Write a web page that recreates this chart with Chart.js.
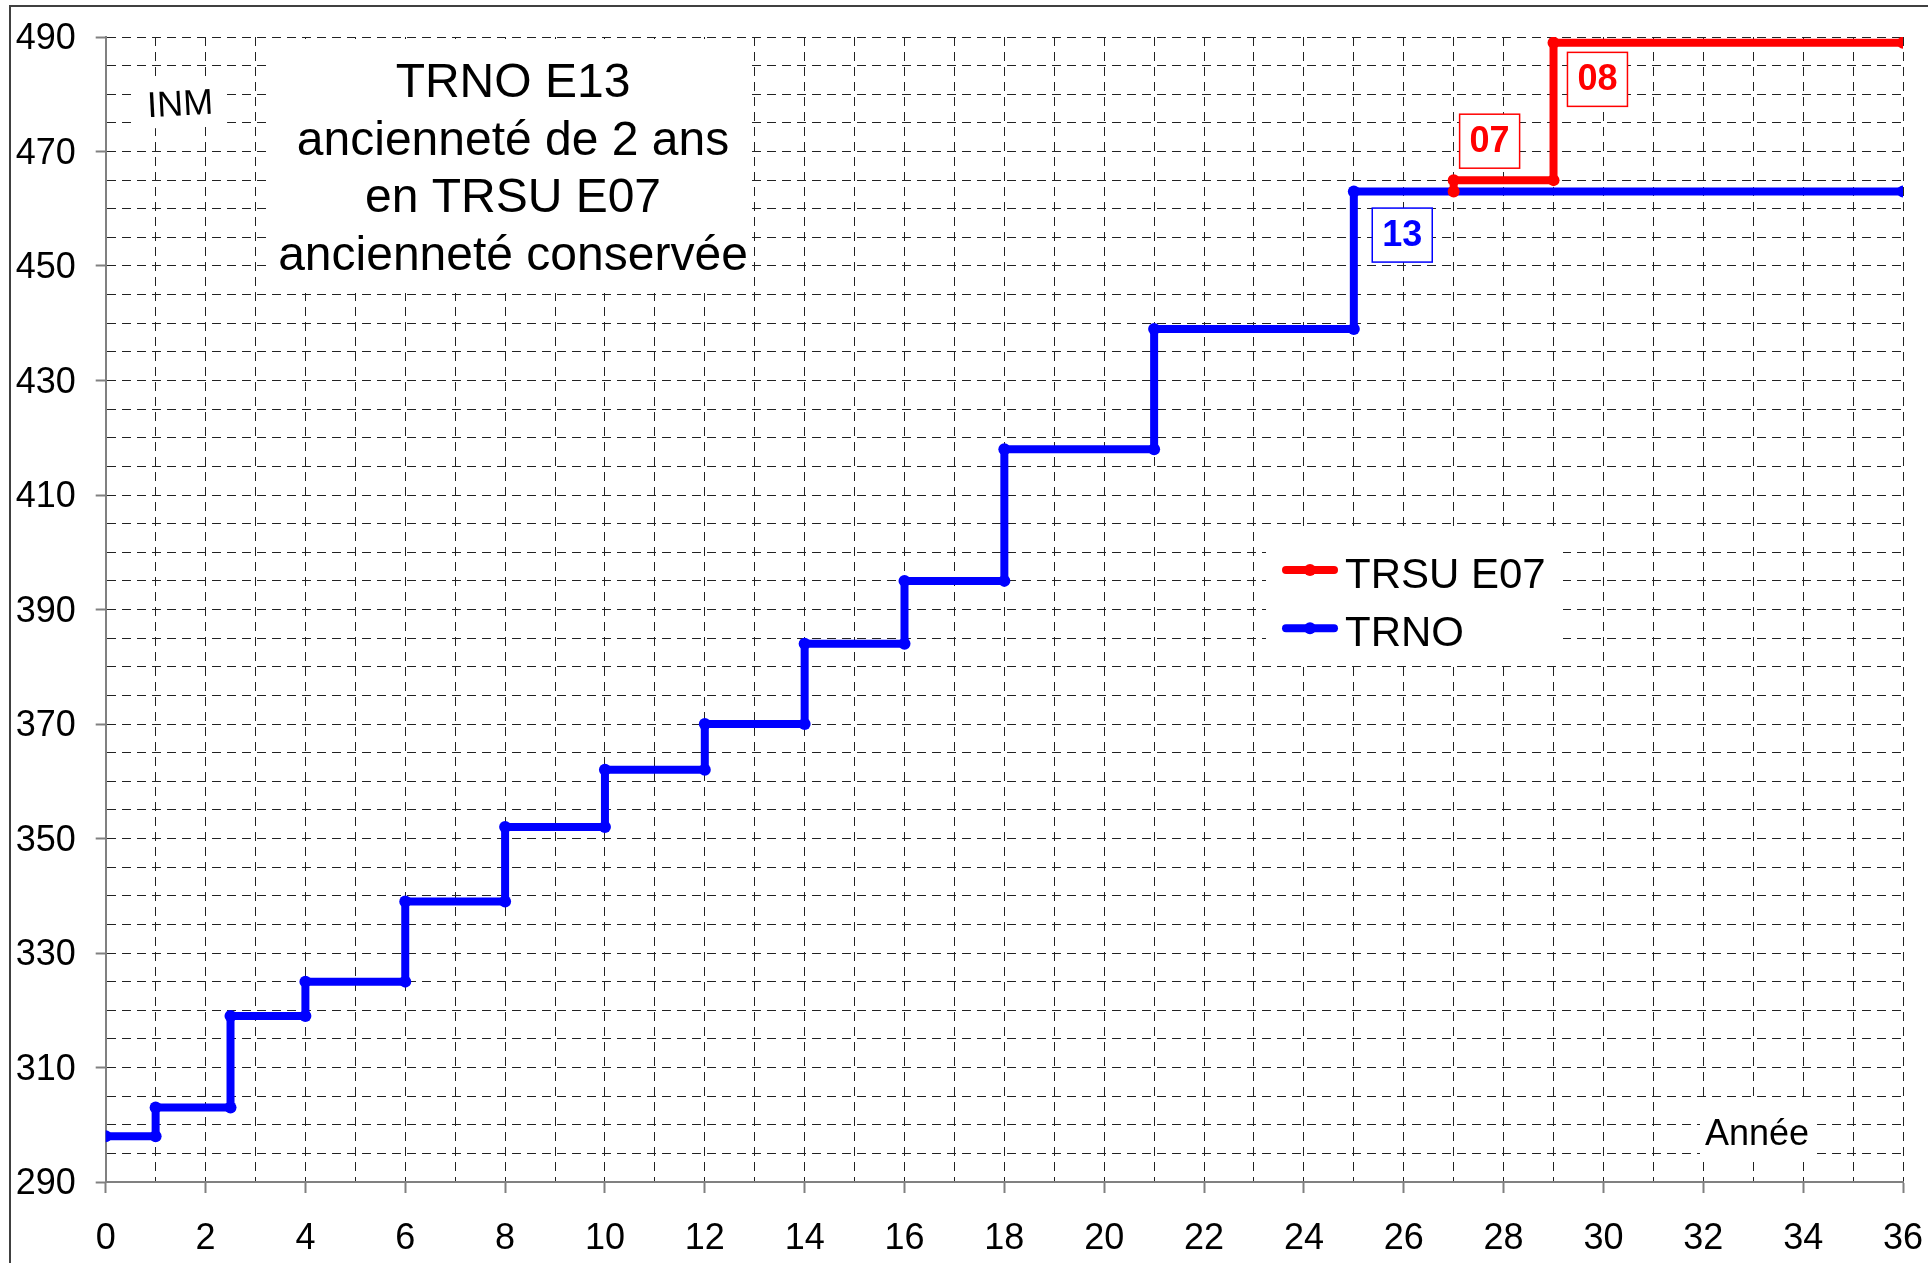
<!DOCTYPE html>
<html><head><meta charset="utf-8">
<script src="https://cdn.jsdelivr.net/npm/chart.js@4/dist/chart.umd.min.js"></script>
<style>
html,body{margin:0;padding:0;background:#fff;overflow:hidden}
#wrap{position:absolute;left:0;top:0;width:1928px;height:1263px}
#c{display:block;width:1928px;height:1263px}
</style>
</head><body>
<div id="wrap"><canvas id="c" width="1928" height="1263"></canvas></div>
<script>
// ---- data ----
const seriesNames = ['TRSU E07', 'TRNO'];
const trsuYears = [27, 27, 29, 29, 36];
const trsuINM   = [463, 465, 465, 489, 489];
const trnoYears = [0, 1, 1, 2.5, 2.5, 4, 4, 6, 6, 8, 8, 10, 10, 12, 12, 14, 14, 16, 16, 18, 18, 21, 21, 25, 25, 36];
const trnoINM   = [298, 298, 303, 303, 319, 319, 325, 325, 339, 339, 352, 352, 362, 362, 370, 370, 384, 384, 395, 395, 418, 418, 439, 439, 463, 463];
const xTickLabels = [0, 2, 4, 6, 8, 10, 12, 14, 16, 18, 20, 22, 24, 26, 28, 30, 32, 34, 36];
const yTickLabels = [290, 310, 330, 350, 370, 390, 410, 430, 450, 470, 490];
const titleLines = ['TRNO E13', 'ancienneté de 2 ans', 'en TRSU E07', 'ancienneté conservée'];
const yAxisTitle = 'INM';
const xAxisTitle = 'Année';
const stepLabels = ['13', '07', '08'];

const RED = '#FF0000', BLUE = '#0000FF';
const FONT = '"Liberation Sans", Arial, Helvetica, sans-serif';

function pts(xs, ys) { return xs.map((x, i) => ({x: x, y: ys[i]})); }

// annotation anchors (data coordinates) for the step labels
const stepLabelAnchors = [
  {x: 25.97, y: 455.4, color: BLUE},
  {x: 27.72, y: 471.8, color: RED},
  {x: 29.88, y: 482.6, color: RED}
];

const deco = {
  id: 'deco',
  beforeDraw(chart) {
    const ctx = chart.ctx;
    ctx.save();
    ctx.fillStyle = '#fff';
    ctx.fillRect(0, 0, chart.width, chart.height);
    ctx.strokeStyle = '#404040';
    ctx.lineWidth = 2;
    ctx.beginPath();
    ctx.moveTo(10, chart.height);
    ctx.lineTo(10, 6);
    ctx.lineTo(chart.width, 6);
    ctx.stroke();
    ctx.restore();
  },
  beforeDatasetsDraw(chart) {
    const ctx = chart.ctx;
    ctx.save();
    // title box
    ctx.fillStyle = '#fff';
    ctx.fillRect(266, 39, 482, 254);
    ctx.fillStyle = '#000';
    ctx.font = '48px ' + FONT;
    ctx.textAlign = 'center';
    ctx.textBaseline = 'alphabetic';
    const base = [96.7, 154.5, 212.3, 270];
    titleLines.forEach((t, i) => ctx.fillText(t, 513, base[i]));
    // INM
    ctx.save();
    ctx.translate(180, 103);
    ctx.rotate(-3 * Math.PI / 180);
    ctx.fillStyle = '#fff';
    ctx.fillRect(-46, -24, 92, 48);
    ctx.fillStyle = '#000';
    ctx.font = '36px ' + FONT;
    ctx.textAlign = 'center';
    ctx.fillText(yAxisTitle, 0, 12.5);
    ctx.restore();
    // Année
    ctx.fillStyle = '#fff';
    ctx.fillRect(1700, 1100, 115, 62);
    ctx.fillStyle = '#000';
    ctx.font = '36px ' + FONT;
    ctx.textAlign = 'center';
    ctx.fillText(xAxisTitle, 1757, 1145);
    // legend
    ctx.fillStyle = '#fff';
    ctx.fillRect(1266, 530, 297, 132);
    const ly = [570, 628.3];
    chart.data.datasets.forEach((ds, i) => {
      ctx.strokeStyle = ds.borderColor;
      ctx.lineWidth = 8;
      ctx.lineCap = 'round';
      ctx.beginPath();
      ctx.moveTo(1286, ly[i]);
      ctx.lineTo(1334, ly[i]);
      ctx.stroke();
      ctx.fillStyle = ds.borderColor;
      ctx.beginPath();
      ctx.arc(1310, ly[i], 6, 0, Math.PI * 2);
      ctx.fill();
      ctx.fillStyle = '#000';
      ctx.font = '42px ' + FONT;
      ctx.textAlign = 'left';
      ctx.fillText(ds.label, 1345, ly[i] + 17.5);
    });
    ctx.restore();
  },
  afterDatasetsDraw(chart) {
    const ctx = chart.ctx;
    const xs = chart.scales.x, ys = chart.scales.y;
    ctx.save();
    stepLabels.forEach((t, i) => {
      const a = stepLabelAnchors[i];
      const cx = xs.getPixelForValue(a.x), cy = ys.getPixelForValue(a.y);
      ctx.fillStyle = '#fff';
      ctx.fillRect(cx - 30, cy - 27, 60, 54);
      ctx.strokeStyle = a.color;
      ctx.lineWidth = 1.5;
      ctx.strokeRect(cx - 30, cy - 27, 60, 54);
      ctx.fillStyle = a.color;
      ctx.font = 'bold 36px ' + FONT;
      ctx.textAlign = 'center';
      ctx.textBaseline = 'alphabetic';
      ctx.fillText(t, cx, cy + 11);
    });
    ctx.restore();
  }
};

const GRID = '#222';
const AXIS = '#808080';

function zeroPad(s) { s.paddingLeft = 0; s.paddingRight = 0; s.paddingTop = 0; s.paddingBottom = 0; }

new Chart(document.getElementById('c'), {
  type: 'line',
  data: {
    datasets: [
      {label: seriesNames[0], data: pts(trsuYears, trsuINM), borderColor: RED, backgroundColor: RED,
       pointBackgroundColor: RED, pointBorderColor: RED, borderWidth: 8, pointRadius: 6, pointBorderWidth: 0,
       tension: 0, fill: false},
      {label: seriesNames[1], data: pts(trnoYears, trnoINM), borderColor: BLUE, backgroundColor: BLUE,
       pointBackgroundColor: BLUE, pointBorderColor: BLUE, borderWidth: 8, pointRadius: 6, pointBorderWidth: 0,
       tension: 0, fill: false}
    ]
  },
  options: {
    responsive: false,
    maintainAspectRatio: false,
    animation: false,
    devicePixelRatio: 1,
    layout: {padding: {left: 0, top: 37, right: 25, bottom: 0}},
    plugins: {legend: {display: false}, tooltip: {enabled: false}, title: {display: false}},
    scales: {
      x: {
        type: 'linear', min: 0, max: 36,
        afterFit(s) { s.height = 81; zeroPad(s); },
        ticks: {
          stepSize: 1, autoSkip: false, maxRotation: 0, minRotation: 0,
          color: '#000', font: {family: FONT, size: 36}, padding: 24,
          callback: v => xTickLabels.includes(v) ? String(v) : ''
        },
        grid: {
          color: GRID, lineWidth: 1, drawTicks: true, tickLength: 11, tickWidth: 2,
          tickColor: c => (c.tick && xTickLabels.includes(c.tick.value)) ? AXIS : 'rgba(0,0,0,0)'
        },
        border: {display: true, color: AXIS, width: 2, dash: [9, 6]}
      },
      y: {
        type: 'linear', min: 290, max: 490,
        afterFit(s) { s.width = 105.7; zeroPad(s); },
        ticks: {
          stepSize: 5, autoSkip: false, labelOffset: 2.5,
          color: '#000', font: {family: FONT, size: 36}, padding: 20,
          callback: v => yTickLabels.includes(v) ? String(v) : ''
        },
        grid: {
          color: GRID, lineWidth: 1, drawTicks: true, tickLength: 10, tickWidth: 2,
          tickColor: c => (c.tick && yTickLabels.includes(c.tick.value)) ? AXIS : 'rgba(0,0,0,0)'
        },
        border: {display: true, color: AXIS, width: 2, dash: [9, 6]}
      }
    }
  },
  plugins: [deco]
});
</script>
</body></html>
